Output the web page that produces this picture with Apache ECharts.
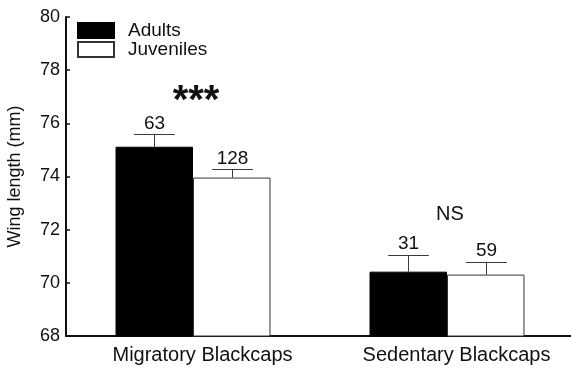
<!DOCTYPE html>
<html>
<head>
<meta charset="utf-8">
<script src="https://cdn.jsdelivr.net/npm/echarts@6/dist/echarts.min.js"></script>
<style>
  html, body { margin: 0; padding: 0; background: #fff; }
  #chart { width: 571px; height: 368px; }
</style>
</head>
<body>
<div id="chart"></div>
<script>
// Wing length of adult and juvenile blackcaps, mean + SE with sample sizes
const categories = ['Migratory Blackcaps', 'Sedentary Blackcaps'];
const adultMeans = [75.12, 70.42];
const adultSE = [0.46, 0.64];
const adultN = [63, 31];
const juvenileMeans = [73.96, 70.31];
const juvenileSE = [0.32, 0.49];
const juvenileN = [128, 59];
const significance = ['***', 'NS'];
const yMin = 68, yMax = 80, yStep = 2;

const FONT = 'Liberation Sans, Arial, Helvetica, sans-serif';
const BAR_SHARE = 0.305; // share of each category band taken by one bar

function errorBarSeries(name, means, se, ns, side) {
  return {
    type: 'custom',
    name: name + ' SE',
    z: 5,
    silent: true,
    data: means.map((m, i) => [i, m, se[i], ns[i]]),
    renderItem: function (params, api) {
      const cat = api.value(0);
      const mean = api.value(1);
      const err = api.value(2);
      const band = api.size([1, 0])[0];
      const barW = band * BAR_SHARE;
      const base = api.coord([cat, mean]);
      const top = api.coord([cat, mean + err]);
      const x = Math.round(base[0] + side * barW / 2) + 0.5;
      const yTop = Math.round(top[1]) + 0.5;
      const capHalf = barW / 4 + 1;
      const stroke = { stroke: '#3a3a3a', lineWidth: 1 };
      return {
        type: 'group',
        children: [
          { type: 'line', shape: { x1: x, y1: base[1], x2: x, y2: yTop }, style: stroke },
          { type: 'line', shape: { x1: x - capHalf, y1: yTop, x2: x + capHalf, y2: yTop }, style: stroke },
          { type: 'text', style: { text: String(api.value(3)), x: x, y: top[1] - 1, align: 'center', verticalAlign: 'bottom', fontSize: 19, fontFamily: FONT, fill: '#111' } }
        ]
      };
    }
  };
}

const chart = echarts.init(document.getElementById('chart'), null, { renderer: 'canvas' });
chart.setOption({
  animation: false,
  backgroundColor: '#fff',
  grid: { left: 66, right: -3, top: 17, bottom: 32, containLabel: false, outerBoundsMode: 'none' },
  legend: {
    orient: 'vertical',
    left: 77,
    top: 21,
    padding: 0,
    icon: 'rect',
    itemWidth: 36,
    itemHeight: 15,
    itemGap: 0,
    data: ['Adults', 'Juveniles'],
    textStyle: { fontSize: 19, lineHeight: 19, fontFamily: FONT, color: '#111', padding: [0, 0, 0, 9] }
  },
  xAxis: {
    type: 'category',
    data: categories,
    axisLine: { lineStyle: { color: '#111', width: 2 } },
    axisTick: { show: false },
    axisLabel: { fontSize: 20, fontFamily: FONT, color: '#111', margin: 9, padding: [0, 0, 0, 19] }
  },
  yAxis: {
    type: 'value',
    min: yMin,
    max: yMax,
    interval: yStep,
    name: 'Wing length (mm)',
    nameLocation: 'middle',
    nameGap: 42,
    nameTextStyle: { fontSize: 18, fontFamily: FONT, color: '#111' },
    axisLine: { show: true, lineStyle: { color: '#111', width: 2 } },
    axisTick: { show: true, inside: true, length: 4, lineStyle: { color: '#111', width: 1.5 } },
    axisLabel: { fontSize: 18, fontFamily: FONT, color: '#111', margin: 6 },
    splitLine: { show: false }
  },
  series: [
    {
      name: 'Adults',
      type: 'bar',
      data: adultMeans,
      barWidth: (BAR_SHARE * 100) + '%',
      barGap: '0%',
      itemStyle: { color: '#000', borderColor: '#000', borderWidth: 1 }
    },
    {
      name: 'Juveniles',
      type: 'bar',
      data: juvenileMeans,
      barWidth: (BAR_SHARE * 100) + '%',
      barGap: '0%',
      itemStyle: { color: '#fff', borderColor: '#333', borderWidth: 1 }
    },
    errorBarSeries('Adults', adultMeans, adultSE, adultN, -1),
    errorBarSeries('Juveniles', juvenileMeans, juvenileSE, juvenileN, 1),
    {
      // significance marks set above the highest error bar of each group
      type: 'custom',
      name: 'Significance',
      silent: true,
      z: 6,
      data: significance.map((s, i) => [i, Math.max(adultMeans[i] + adultSE[i], juvenileMeans[i] + juvenileSE[i])]),
      renderItem: function (params, api) {
        const p = api.coord([api.value(0), api.value(1)]);
        const label = significance[params.dataIndex];
        const stars = label.indexOf('*') >= 0;
        return {
          type: 'text',
          style: {
            text: label,
            x: p[0] + 3,
            y: p[1] - (stars ? 33 : 40),
            align: 'center',
            verticalAlign: 'middle',
            fontSize: stars ? 40 : 20,
            fontWeight: stars ? 'bold' : 'normal',
            fontFamily: FONT,
            fill: '#111'
          }
        };
      }
    }
  ]
});
</script>
</body>
</html>
